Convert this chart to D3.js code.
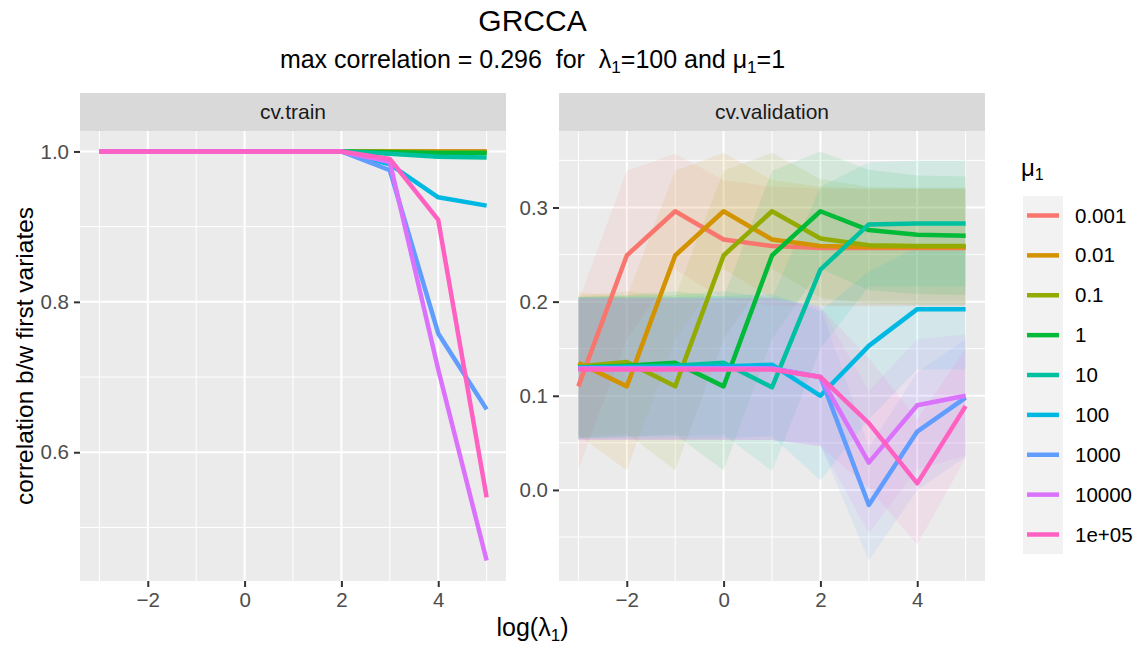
<!DOCTYPE html>
<html>
<head>
<meta charset="utf-8">
<script src="https://cdn.jsdelivr.net/npm/d3@7"></script>
<style>
  body { margin: 0; background: #fff; }
  text { font-family: "Liberation Sans", Arial, Helvetica, sans-serif; white-space: pre; }
</style>
</head>
<body>
<div id="chart"></div>
<script>
// log(lambda_1) grid
const logLambda = [-3, -2, -1, 0, 1, 2, 3, 4, 5];
const muLabels = ['0.001', '0.01', '0.1', '1', '10', '100', '1000', '10000', '1e+05'];
const muColors = ['#F8766D', '#D39200', '#93AA00', '#00BA38', '#00C19F', '#00B9E3', '#619CFF', '#DB72FB', '#FF61C3'];

// cv.train, one row per mu
const trainVals = [
  [1, 1, 1, 1, 1, 1, 1.000, 1.000, 1.000],
  [1, 1, 1, 1, 1, 1, 1.000, 1.000, 1.000],
  [1, 1, 1, 1, 1, 1, 1.000, 0.999, 0.999],
  [1, 1, 1, 1, 1, 1, 0.999, 0.998, 0.998],
  [1, 1, 1, 1, 1, 1, 0.997, 0.993, 0.992],
  [1, 1, 1, 1, 1, 1, 0.983, 0.939, 0.928],
  [1, 1, 1, 1, 1, 1, 0.975, 0.758, 0.657],
  [1, 1, 1, 1, 1, 1, 0.986, 0.710, 0.456],
  [1, 1, 1, 1, 1, 1, 0.990, 0.909, 0.540]
];

// cv.validation mean, one row per mu
const validVals = [
  [0.110, 0.249, 0.296, 0.266, 0.259, 0.257, 0.257, 0.257, 0.257],
  [0.135, 0.110, 0.249, 0.296, 0.266, 0.259, 0.258, 0.258, 0.258],
  [0.131, 0.136, 0.110, 0.249, 0.296, 0.267, 0.260, 0.259, 0.259],
  [0.130, 0.132, 0.135, 0.110, 0.249, 0.296, 0.276, 0.271, 0.270],
  [0.130, 0.131, 0.132, 0.135, 0.109, 0.234, 0.282, 0.283, 0.283],
  [0.130, 0.130, 0.130, 0.131, 0.133, 0.100, 0.153, 0.192, 0.192],
  [0.129, 0.129, 0.129, 0.129, 0.129, 0.120, -0.016, 0.062, 0.098],
  [0.129, 0.129, 0.129, 0.129, 0.129, 0.120, 0.029, 0.090, 0.100],
  [0.128, 0.128, 0.128, 0.128, 0.128, 0.120, 0.071, 0.007, 0.089]
];

// cv.validation ribbon bounds
const validLo = [
  [0.022, 0.160, 0.234, 0.203, 0.196, 0.195, 0.195, 0.195, 0.195],
  [0.058, 0.021, 0.160, 0.235, 0.203, 0.196, 0.196, 0.196, 0.196],
  [0.056, 0.060, 0.021, 0.160, 0.235, 0.204, 0.198, 0.197, 0.197],
  [0.055, 0.057, 0.059, 0.021, 0.160, 0.235, 0.212, 0.208, 0.207],
  [0.055, 0.056, 0.057, 0.059, 0.020, 0.150, 0.216, 0.216, 0.216],
  [0.054, 0.054, 0.054, 0.055, 0.057, 0.010, 0.075, 0.128, 0.128],
  [0.053, 0.053, 0.053, 0.053, 0.053, 0.048, -0.075, 0.000, 0.035],
  [0.053, 0.053, 0.053, 0.053, 0.053, 0.047, -0.046, 0.022, 0.036],
  [0.053, 0.053, 0.053, 0.053, 0.053, 0.046, 0.002, -0.058, 0.034]
];
const validHi = [
  [0.200, 0.339, 0.357, 0.329, 0.322, 0.320, 0.320, 0.320, 0.320],
  [0.210, 0.205, 0.339, 0.358, 0.329, 0.322, 0.320, 0.320, 0.320],
  [0.206, 0.211, 0.205, 0.339, 0.358, 0.330, 0.322, 0.321, 0.321],
  [0.205, 0.207, 0.211, 0.205, 0.339, 0.3595, 0.340, 0.334, 0.333],
  [0.205, 0.206, 0.207, 0.211, 0.204, 0.322, 0.348, 0.350, 0.350],
  [0.205, 0.205, 0.205, 0.206, 0.208, 0.190, 0.232, 0.258, 0.258],
  [0.204, 0.204, 0.204, 0.204, 0.204, 0.195, 0.045, 0.125, 0.160],
  [0.204, 0.204, 0.204, 0.204, 0.204, 0.195, 0.105, 0.160, 0.165],
  [0.203, 0.203, 0.203, 0.203, 0.203, 0.194, 0.140, 0.075, 0.150]
];

const width = 1139, height = 648;
const panelTop = 131, panelBottom = 581;

const svg = d3.select('#chart').append('svg')
  .attr('width', width)
  .attr('height', height);

svg.append('rect').attr('width', width).attr('height', height).attr('fill', '#fff');

// ggplot-like expansion of 5%
function expanded(lo, hi) {
  const r = hi - lo;
  return [lo - r * 0.05, hi + r * 0.05];
}

const panels = [
  { name: 'cv.train', x0: 80, x1: 506, vals: trainVals, ribbon: false,
    yTicks: [0.6, 0.8, 1.0], yMinor: [0.5, 0.7, 0.9] },
  { name: 'cv.validation', x0: 559, x1: 985, vals: validVals, ribbon: true,
    yTicks: [0.0, 0.1, 0.2, 0.3], yMinor: [-0.05, 0.05, 0.15, 0.25, 0.35] }
];

const xMajor = [-2, 0, 2, 4], xMinor = [-3, -1, 1, 3, 5];

panels.forEach(p => {
  const x = d3.scaleLinear()
    .domain(expanded(d3.min(logLambda), d3.max(logLambda)))
    .range([p.x0, p.x1]);

  let all = p.vals.flat();
  if (p.ribbon) all = all.concat(validLo.flat(), validHi.flat());
  const y = d3.scaleLinear()
    .domain(expanded(d3.min(all), d3.max(all)))
    .range([panelBottom, panelTop]);

  // strip
  svg.append('rect')
    .attr('x', p.x0).attr('y', 93)
    .attr('width', p.x1 - p.x0).attr('height', panelTop - 93)
    .attr('fill', '#D9D9D9');
  svg.append('text')
    .attr('x', (p.x0 + p.x1) / 2).attr('y', 119)
    .attr('text-anchor', 'middle')
    .attr('font-size', 21)
    .attr('fill', '#1A1A1A')
    .text(p.name);

  // panel background + grid
  svg.append('rect')
    .attr('x', p.x0).attr('y', panelTop)
    .attr('width', p.x1 - p.x0).attr('height', panelBottom - panelTop)
    .attr('fill', '#EBEBEB');

  const g = svg.append('g');
  g.selectAll('.ymin').data(p.yMinor.filter(v => v > y.domain()[0] && v < y.domain()[1]))
    .enter().append('line')
    .attr('x1', p.x0).attr('x2', p.x1)
    .attr('y1', d => y(d)).attr('y2', d => y(d))
    .attr('stroke', '#fff').attr('stroke-width', 1);
  g.selectAll('.xmin').data(xMinor)
    .enter().append('line')
    .attr('x1', d => x(d)).attr('x2', d => x(d))
    .attr('y1', panelTop).attr('y2', panelBottom)
    .attr('stroke', '#fff').attr('stroke-width', 1);
  g.selectAll('.ymaj').data(p.yTicks)
    .enter().append('line')
    .attr('x1', p.x0).attr('x2', p.x1)
    .attr('y1', d => y(d)).attr('y2', d => y(d))
    .attr('stroke', '#fff').attr('stroke-width', 2);
  g.selectAll('.xmaj').data(xMajor)
    .enter().append('line')
    .attr('x1', d => x(d)).attr('x2', d => x(d))
    .attr('y1', panelTop).attr('y2', panelBottom)
    .attr('stroke', '#fff').attr('stroke-width', 2);

  // ribbons first, then lines
  if (p.ribbon) {
    const area = d3.area()
      .x((d, i) => x(logLambda[i]))
      .y0(d => y(d[0]))
      .y1(d => y(d[1]));
    muLabels.forEach((m, k) => {
      const band = validLo[k].map((lo, i) => [lo, validHi[k][i]]);
      svg.append('path')
        .datum(band)
        .attr('d', area)
        .attr('fill', muColors[k])
        .attr('fill-opacity', 0.1);
    });
  }

  const line = d3.line()
    .x((d, i) => x(logLambda[i]))
    .y(d => y(d));
  muLabels.forEach((m, k) => {
    svg.append('path')
      .datum(p.vals[k])
      .attr('d', line)
      .attr('fill', 'none')
      .attr('stroke', muColors[k])
      .attr('stroke-width', 4.5)
      .attr('stroke-linejoin', 'round');
  });

  // axes
  const yAxis = svg.append('g')
    .attr('transform', `translate(${p.x0},0)`)
    .call(d3.axisLeft(y).tickValues(p.yTicks).tickFormat(d3.format('.1f')).tickSize(6).tickPadding(5));
  const xAxis = svg.append('g')
    .attr('transform', `translate(0,${panelBottom})`)
    .call(d3.axisBottom(x).tickValues(xMajor).tickFormat(d3.format('d')).tickSize(6).tickPadding(5));
  [yAxis, xAxis].forEach(a => {
    a.select('.domain').remove();
    a.selectAll('line').attr('stroke', '#333333').attr('stroke-width', 2);
    a.selectAll('text').attr('font-size', 20.5).attr('fill', '#4D4D4D')
      .attr('font-family', '"Liberation Sans", Arial, sans-serif');
  });
});

// titles
svg.append('text')
  .attr('x', 532.5).attr('y', 31)
  .attr('text-anchor', 'middle')
  .attr('font-size', 30)
  .attr('fill', '#000')
  .text('GRCCA');

const sub = svg.append('text')
  .attr('x', 532.5).attr('y', 68)
  .attr('text-anchor', 'middle')
  .attr('font-size', 25)
  .attr('fill', '#000');
sub.append('tspan').text('max correlation = 0.296  for  λ');
sub.append('tspan').attr('font-size', 17).attr('dy', 5).text('1');
sub.append('tspan').attr('dy', -5).text('=100 and μ');
sub.append('tspan').attr('font-size', 17).attr('dy', 5).text('1');
sub.append('tspan').attr('dy', -5).text('=1');

const xt = svg.append('text')
  .attr('x', 532.5).attr('y', 636)
  .attr('text-anchor', 'middle')
  .attr('font-size', 25)
  .attr('fill', '#000');
xt.append('tspan').text('log(λ');
xt.append('tspan').attr('font-size', 17).attr('dy', 5).text('1');
xt.append('tspan').attr('dy', -5).text(')');

svg.append('text')
  .attr('transform', `translate(33,${(panelTop + panelBottom) / 2}) rotate(-90)`)
  .attr('text-anchor', 'middle')
  .attr('font-size', 24.5)
  .attr('fill', '#000')
  .text('correlation b/w first variates');

// legend
const lg = svg.append('g');
const lt = lg.append('text')
  .attr('x', 1021).attr('y', 176)
  .attr('font-size', 24)
  .attr('fill', '#000');
lt.append('tspan').text('μ');
lt.append('tspan').attr('font-size', 16).attr('dy', 4).text('1');

lg.append('rect')
  .attr('x', 1023).attr('y', 196)
  .attr('width', 40).attr('height', 358)
  .attr('fill', '#F2F2F2');

const ly = d3.scalePoint().domain(muLabels).range([215.5, 534.5]);
muLabels.forEach((m, k) => {
  lg.append('line')
    .attr('x1', 1027).attr('x2', 1059)
    .attr('y1', ly(m)).attr('y2', ly(m))
    .attr('stroke', muColors[k]).attr('stroke-width', 4.5);
  lg.append('text')
    .attr('x', 1075).attr('y', ly(m) + 7)
    .attr('font-size', 20.5)
    .attr('fill', '#000')
    .text(m);
});
</script>
</body>
</html>
